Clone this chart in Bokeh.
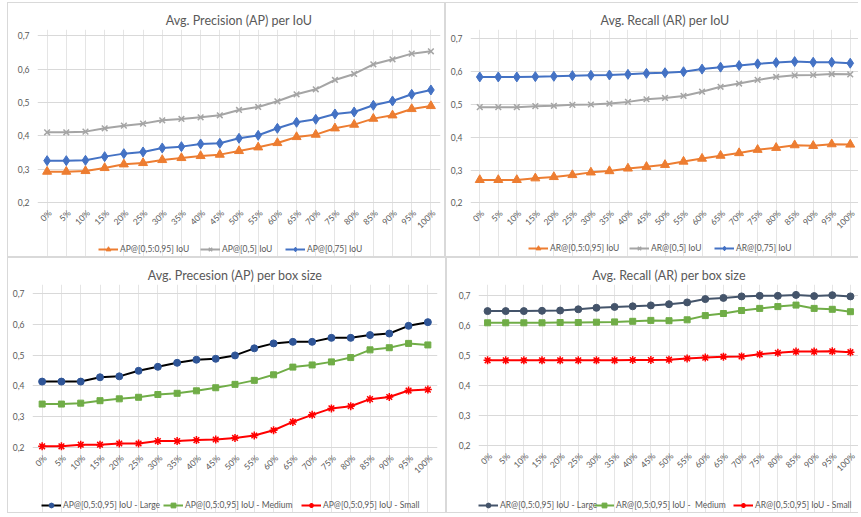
from bokeh.plotting import figure
from bokeh.models import (FactorRange, Range1d, FixedTicker, CustomJSTickFormatter,
                          Legend, LegendItem, Spacer)
from bokeh.layouts import row, column
from bokeh.embed import file_html
from bokeh.resources import INLINE
from bokeh.core.properties import value
import math

# ---------------- data ----------------
categories = ["0%", "5%", "10%", "15%", "20%", "25%", "30%", "35%", "40%", "45%", "50%",
              "55%", "60%", "65%", "70%", "75%", "80%", "85%", "90%", "95%", "100%"]
y_ticks = [0.2, 0.3, 0.4, 0.5, 0.6, 0.7]

# Avg. Precision (AP) per IoU
ap_50_95 = [0.293, 0.293, 0.295, 0.304, 0.315, 0.319, 0.328, 0.334, 0.340, 0.344, 0.355,
            0.366, 0.379, 0.397, 0.404, 0.423, 0.434, 0.452, 0.462, 0.481, 0.490]
ap_50 = [0.411, 0.411, 0.413, 0.423, 0.431, 0.437, 0.447, 0.451, 0.456, 0.462, 0.478,
         0.487, 0.504, 0.525, 0.540, 0.568, 0.586, 0.615, 0.630, 0.647, 0.654]
ap_75 = [0.326, 0.326, 0.327, 0.338, 0.347, 0.352, 0.364, 0.368, 0.376, 0.378, 0.393,
         0.402, 0.423, 0.441, 0.450, 0.466, 0.472, 0.492, 0.505, 0.525, 0.538]

# Avg. Recall (AR) per IoU
ar_50_95 = [0.270, 0.270, 0.270, 0.275, 0.279, 0.285, 0.293, 0.297, 0.305, 0.310, 0.316,
            0.326, 0.335, 0.344, 0.352, 0.362, 0.368, 0.376, 0.374, 0.379, 0.378]
ar_50 = [0.492, 0.492, 0.492, 0.495, 0.496, 0.499, 0.500, 0.503, 0.508, 0.516, 0.520,
         0.526, 0.539, 0.554, 0.564, 0.575, 0.584, 0.589, 0.590, 0.593, 0.592]
ar_75 = [0.584, 0.584, 0.584, 0.585, 0.586, 0.588, 0.589, 0.590, 0.592, 0.595, 0.597,
         0.600, 0.608, 0.614, 0.619, 0.624, 0.628, 0.631, 0.629, 0.629, 0.626]

# Avg. Precesion (AP) per box size
ap_large = [0.414, 0.414, 0.414, 0.428, 0.431, 0.449, 0.462, 0.475, 0.485, 0.488, 0.499,
            0.522, 0.538, 0.543, 0.543, 0.556, 0.556, 0.565, 0.570, 0.595, 0.607]
ap_medium = [0.341, 0.341, 0.344, 0.352, 0.358, 0.363, 0.372, 0.376, 0.384, 0.394, 0.405,
             0.418, 0.436, 0.461, 0.468, 0.478, 0.492, 0.517, 0.524, 0.538, 0.533]
ap_small = [0.204, 0.204, 0.209, 0.209, 0.213, 0.213, 0.221, 0.221, 0.224, 0.226, 0.231,
            0.239, 0.256, 0.283, 0.306, 0.327, 0.334, 0.357, 0.364, 0.385, 0.388]

# Avg. Recall (AR) per box size
ar_large = [0.648, 0.648, 0.648, 0.649, 0.650, 0.654, 0.659, 0.662, 0.664, 0.667, 0.671,
            0.677, 0.688, 0.692, 0.697, 0.699, 0.699, 0.702, 0.698, 0.701, 0.697]
ar_medium = [0.609, 0.609, 0.609, 0.609, 0.610, 0.610, 0.611, 0.612, 0.614, 0.617, 0.616,
             0.619, 0.633, 0.640, 0.650, 0.657, 0.663, 0.668, 0.657, 0.654, 0.646]
ar_small = [0.484, 0.484, 0.484, 0.484, 0.484, 0.484, 0.484, 0.484, 0.485, 0.485, 0.486,
            0.490, 0.493, 0.496, 0.497, 0.504, 0.509, 0.513, 0.513, 0.514, 0.511]

# ---------------- style ----------------
FONT = "Lato"
TEXT = "#595959"
GRID = "#D9D9D9"
ORANGE, GREY, BLUE = "#ED7D31", "#A5A5A5", "#4472C4"
GREEN, RED = "#70AD47", "#FF0000"


def make_panel(title, w, h, left, right, top_px, base_px, head_px, title_off,
               series, legend_xs, legend_y, border_css):
    # frame spans from a little above the 0,7 line down to the canvas bottom;
    # the strip below 0,2 holds the rotated category labels and the legend
    frame_bottom = h - 1
    per_unit = (base_px - top_px) / (y_ticks[-1] - y_ticks[0])
    y_lo = y_ticks[0] - (frame_bottom - base_px) / per_unit
    y_hi = y_ticks[-1] + head_px / per_unit
    p = figure(x_range=FactorRange(factors=categories, range_padding=0),
               y_range=Range1d(y_lo, y_hi), width=w, height=h,
               x_axis_location=None,
               output_backend="svg", toolbar_location=None,
               min_border_left=left, min_border_right=right,
               min_border_top=round(top_px - head_px), min_border_bottom=1)
    p.outline_line_color = None
    p.background_fill_color = "white"
    p.border_fill_color = "white"
    p.title.text = title
    p.title.align = "center"
    p.title.offset = title_off
    p.title.standoff = 4
    p.title.text_font = FONT
    p.title.text_font_size = "12.5px"
    p.title.text_font_style = "normal"
    p.title.text_color = TEXT

    p.ygrid.grid_line_color = GRID
    p.ygrid.grid_line_width = 1

    p.yaxis.ticker = FixedTicker(ticks=y_ticks)
    p.yaxis.formatter = CustomJSTickFormatter(code="return tick.toFixed(1).replace('.', ',');")
    p.yaxis.axis_line_color = None
    p.yaxis.major_tick_line_color = None
    p.yaxis.minor_tick_line_color = None
    p.yaxis.major_tick_out = 0
    p.yaxis.major_tick_in = 0
    p.yaxis.major_label_text_font = FONT
    p.yaxis.major_label_text_font_size = "8.5px"
    p.yaxis.major_label_text_color = TEXT
    p.yaxis.major_label_standoff = 8

    # rotated category labels under the 0,2 line
    p.text(x=categories, y=[y_ticks[0]] * len(categories), text=categories,
           angle=math.pi / 4, text_align="right", text_baseline="middle",
           x_offset=3, y_offset=9, text_font=value(FONT), text_font_size="8.5px",
           text_color=TEXT)

    for (ys, lcol, mcol, marker, size, label), lx in zip(series, legend_xs):
        lr = p.line(categories, ys, line_color=lcol, line_width=2)
        if marker in ("x", "asterisk"):
            sr = p.scatter(categories, ys, marker=marker, size=size,
                           line_color=mcol, line_width=1.5)
        else:
            sr = p.scatter(categories, ys, marker=marker, size=size,
                           fill_color=mcol, line_color=mcol)
        leg = Legend(items=[LegendItem(label=label, renderers=[lr, sr])],
                     location=(lx, legend_y), orientation="horizontal",
                     border_line_color=None, background_fill_alpha=0,
                     padding=0, margin=0, spacing=0,
                     glyph_width=20, glyph_height=12, label_height=12,
                     label_standoff=2, label_text_font=FONT,
                     label_text_font_size="8.5px", label_text_color=TEXT)
        p.add_layout(leg)
    p.styles = border_css
    return p


B = "1px solid #D9D9D9"
full_border = {"border": B}
open_border = {"border-left": B, "border-top": B, "border-bottom": B}

p1 = make_panel("Avg. Precision (AP) per IoU", 438, 255, 29, 6, 32, 199, 6.5, -11,
                [(ap_50_95, ORANGE, ORANGE, "triangle", 9, "AP@[0,5:0,95] IoU"),
                 (ap_50, GREY, GREY, "x", 8, "AP@[0,5] IoU"),
                 (ap_75, BLUE, BLUE, "diamond", 10, "AP@[0,75] IoU")],
                [61, 163, 248], 2, full_border)

p2 = make_panel("Avg. Recall (AR) per IoU", 413, 255, 24, 0, 34, 199, 9.5, -7,
                [(ar_50_95, ORANGE, ORANGE, "triangle", 9, "AR@[0,5:0,95] IoU"),
                 (ar_50, GREY, GREY, "x", 8, "AR@[0,5] IoU"),
                 (ar_75, BLUE, BLUE, "diamond", 10, "AR@[0,75] IoU")],
                [58, 159, 244], 3, open_border)

p3 = make_panel("Avg. Precesion (AP) per box size", 439, 256, 24, 10, 35, 189, 9, -7,
                [(ap_large, "#000000", "#2F5597", "circle", 7, "AP@[0,5:0,95] IoU - Large"),
                 (ap_medium, GREEN, GREEN, "square", 6, "AP@[0,5:0,95] IoU - Medium"),
                 (ap_small, RED, RED, "asterisk", 8, "AP@[0,5:0,95] IoU - Small")],
                [9, 131, 269], 2, full_border)

p4 = make_panel("Avg. Recall (AR) per box size", 412, 256, 31, 0, 37, 187, 11, -10,
                [(ar_large, "#44546A", "#44546A", "circle", 7, "AR@[0,5:0,95] IoU - Large"),
                 (ar_medium, GREEN, GREEN, "square", 6, "AR@[0,5:0,95] IoU -  Medium"),
                 (ar_small, RED, RED, "asterisk", 8, "AR@[0,5:0,95] IoU - Small")],
                [0, 116, 255], 2, open_border)

grid = column(row(p1, p2), row(p3, p4))
layout = column(Spacer(width=10, height=2), row(Spacer(width=7, height=10), grid))

open("out.html", "w").write(file_html(layout, INLINE))
